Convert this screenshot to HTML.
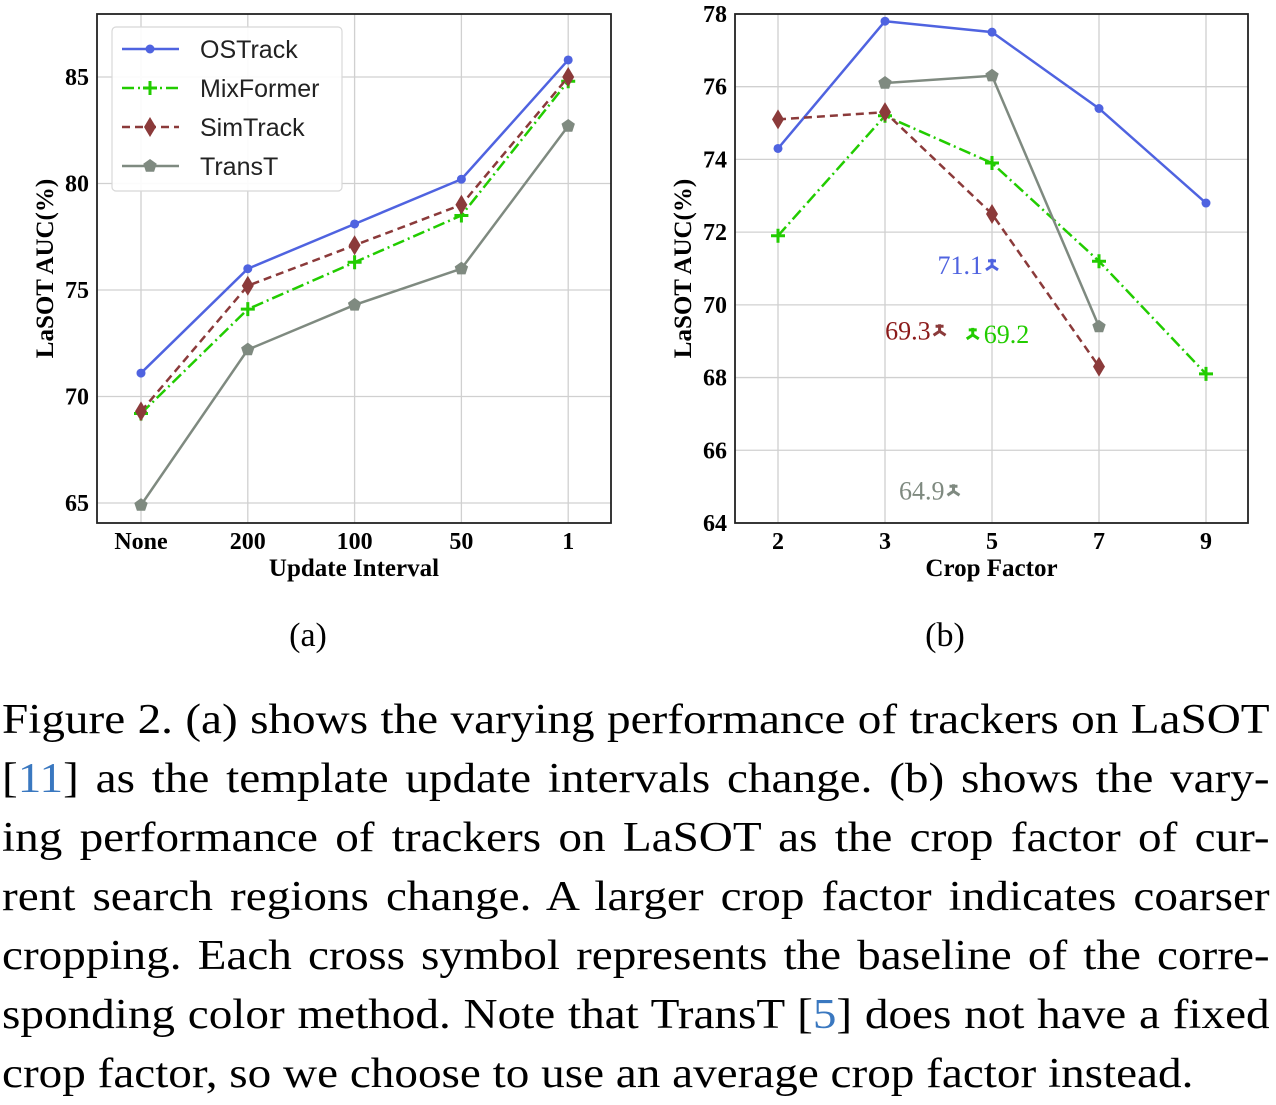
<!DOCTYPE html>
<html><head><meta charset="utf-8">
<style>
body{margin:0;background:#fff;width:1276px;height:1105px;overflow:hidden;position:relative}
svg{position:absolute;left:0;top:0}
.cap{position:absolute;left:2px;width:1142px;font-family:"Liberation Serif",serif;font-size:42.5px;color:#000;transform:scaleX(1.11);transform-origin:0 0}
.ln{height:59px;line-height:59px;white-space:nowrap;text-align:justify;text-align-last:justify}
.ln.last{text-align-last:left}
.ref{color:#3a78c0}
</style></head><body>
<svg id="fig" width="1276" height="680"></svg>
<div class="cap" style="top:690px">
<div class="ln">Figure 2. (a) shows the varying performance of trackers on LaSOT</div>
<div class="ln">[<span class="ref">11</span>] as the template update intervals change. (b) shows the vary-</div>
<div class="ln">ing performance of trackers on LaSOT as the crop factor of cur-</div>
<div class="ln">rent search regions change. A larger crop factor indicates coarser</div>
<div class="ln">cropping. Each cross symbol represents the baseline of the corre-</div>
<div class="ln">sponding color method. Note that TransT [<span class="ref">5</span>] does not have a fixed</div>
<div class="ln last">crop factor, so we choose to use an average crop factor instead.</div>
</div>
<script>
const catsA=["None","200","100","50","1"];
const ticksA=[65,70,75,80,85];
const osA=[71.1,76.0,78.1,80.2,85.8];
const mixA=[69.2,74.1,76.3,78.5,84.8];
const simA=[69.3,75.2,77.1,79.0,85.0];
const trA=[64.9,72.2,74.3,76.0,82.7];
const catsB=["2","3","5","7","9"];
const ticksB=[64,66,68,70,72,74,76,78];
const osB=[74.3,77.8,77.5,75.4,72.8];
const mixB=[71.9,75.2,73.9,71.2,68.1];
const simB=[75.1,75.3,72.5,68.3,null];
const trB=[null,76.1,76.3,69.4,null];
const baseNames=["OSTrack","MixFormer","SimTrack","TransT"];
const baseVals=[71.1,69.2,69.3,64.9];
const baseIdx=[2.0,1.82,1.51,1.64];

const NS="http://www.w3.org/2000/svg";
const svg=document.getElementById('fig');
function mk(t,a,p){const e=document.createElementNS(NS,t);for(const k in a)e.setAttribute(k,a[k]);(p||svg).appendChild(e);return e;}
const styles={OSTrack:{c:"#4f63e0",d:"",m:"circle"},MixFormer:{c:"#22cc00",d:"12,4,2,4",m:"plus"},SimTrack:{c:"#8b3a3a",d:"8,5",m:"diamond"},TransT:{c:"#7f8a80",d:"",m:"pent"}};
function marker(g,m,x,y,c){
 if(m=="circle")mk('circle',{cx:x,cy:y,r:4.5,fill:c},g);
 else if(m=="plus")mk('path',{d:`M${x-7} ${y}H${x+7}M${x} ${y-7}V${y+7}`,stroke:c,'stroke-width':3},g);
 else if(m=="diamond")mk('path',{d:`M${x} ${y-10}L${x+6} ${y}L${x} ${y+10}L${x-6} ${y}Z`,fill:c},g);
 else {let p=[];for(let i=0;i<5;i++){const a=-Math.PI/2+i*2*Math.PI/5;p.push((x+7*Math.cos(a)).toFixed(1)+','+(y+7*Math.sin(a)).toFixed(1));}mk('polygon',{points:p.join(' '),fill:c},g);}
}
function chart(o){
 const g=mk('g',{});
 
 
 const X=i=>o.x0+o.dx*i, Y=v=>o.yb-(v-o.ymin)*o.py;
 o.ticks.forEach(t=>{const l=mk('line',{x1:o.L,x2:o.R,y1:Y(t),y2:Y(t),stroke:"#d0d0d0",'stroke-width':1.3},g);
  const tx=mk('text',{x:o.L-8,y:Y(t)+8,'text-anchor':'end','font-family':'Liberation Serif,serif','font-weight':'bold','font-size':24},g);tx.textContent=t;});
 o.cats.forEach((c,i)=>{const l=mk('line',{x1:X(i),x2:X(i),y1:o.T,y2:o.B,stroke:"#d0d0d0",'stroke-width':1.3},g);
  const tx=mk('text',{x:X(i),y:o.B+26,'text-anchor':'middle','font-family':'Liberation Serif,serif','font-weight':'bold','font-size':24},g);tx.textContent=c;});
 o.series.forEach(s=>{const st=styles[s.n];const pts=[];s.v.forEach((v,i)=>{if(v!=null)pts.push([X(i),Y(v)]);});
  const sg=mk('g',{},g);
  mk('polyline',{points:pts.map(p=>p.join(',')).join(' '),fill:'none',stroke:st.c,'stroke-width':2.5,'stroke-dasharray':st.d},sg);
  pts.forEach(p=>marker(sg,st.m,p[0],p[1],st.c));});
 const f=mk('rect',{x:o.L,y:o.T,width:o.R-o.L,height:o.B-o.T,fill:'none',stroke:'#222','stroke-width':1.8},g);
 const yt=mk('text',{x:0,y:0,transform:`translate(${o.L-44},${(o.T+o.B)/2}) rotate(-90)`,'text-anchor':'middle','font-family':'Liberation Serif,serif','font-weight':'bold','font-size':25},g);yt.textContent="LaSOT AUC(%)";
 const xt=mk('text',{x:(o.L+o.R)/2,y:o.B+53,'text-anchor':'middle','font-family':'Liberation Serif,serif','font-weight':'bold','font-size':25},g);xt.textContent=o.xtitle;
 const sub=mk('text',{x:o.subx,y:646,'text-anchor':'middle','font-family':'Liberation Serif,serif','font-size':34},g);sub.textContent=o.sub;
 return {g,X,Y};
}
const A=chart({name:'chart-update-interval',L:97,R:611,T:14,B:523,x0:141,dx:106.8,yb:503,ymin:65,py:21.3,ticks:ticksA,cats:catsA,xtitle:"Update Interval",sub:"(a)",subx:308,
 series:[{n:"OSTrack",v:osA},{n:"MixFormer",v:mixA},{n:"SimTrack",v:simA},{n:"TransT",v:trA}]});
const lg=mk('g',{},A.g);
mk('rect',{x:112,y:27,width:230,height:164,rx:4,fill:'#fff','fill-opacity':0.9,stroke:'#d8d8d8','stroke-width':1.2},lg);
baseNames.forEach((n,i)=>{const st=styles[n];const y=49+i*39;
 const e=mk('g',{},lg);
 mk('line',{x1:122,x2:179,y1:y,y2:y,stroke:st.c,'stroke-width':2.5,'stroke-dasharray':st.d},e);marker(e,st.m,150,y,st.c);
 const t=mk('text',{x:200,y:y+9,'font-family':'Liberation Sans,sans-serif','font-size':25,fill:'#222'},e);t.textContent=n;});
const B=chart({name:'chart-crop-factor',L:735,R:1248,T:14,B:523,x0:778,dx:107,yb:523,ymin:64,py:36.36,ticks:ticksB,cats:catsB,xtitle:"Crop Factor",sub:"(b)",subx:945,
 series:[{n:"OSTrack",v:osB},{n:"MixFormer",v:mixB},{n:"SimTrack",v:simB},{n:"TransT",v:trB}]});
const tc={OSTrack:"#4f63e0",MixFormer:"#22cc00",SimTrack:"#8b1a1a",TransT:"#7f8a80"};
baseNames.forEach((n,i)=>{const x=B.X(baseIdx[i]),y=B.Y(baseVals[i]);const c=styles[n].c;
 const bg=mk('g',{},B.g);
 mk('path',{d:`M${x} ${y-6}V${y+2}M${x} ${y+1}L${x-6} ${y+5}M${x} ${y+1}L${x+6} ${y+5}M${x-4} ${y-4}H${x+4}`,stroke:c,'stroke-width':3,fill:'none'},bg);
 const right=(n=="MixFormer");
 const t=mk('text',{x:right?x+11:x-9,y:y+9,'text-anchor':right?'start':'end','font-family':'Liberation Serif,serif','font-size':26,fill:tc[n]},bg);t.textContent=baseVals[i].toFixed(1);});
</script>
</body></html>
